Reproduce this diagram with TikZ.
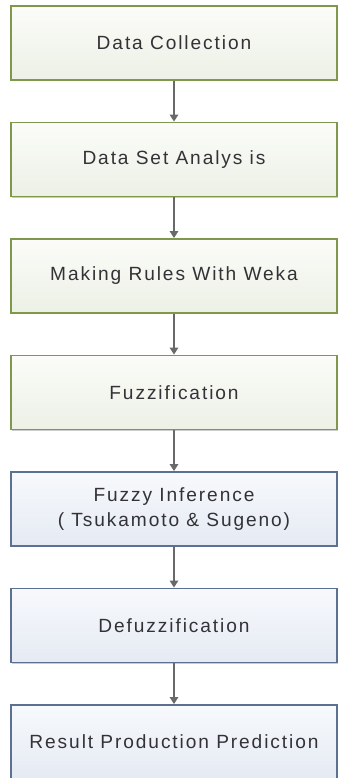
\documentclass[tikz,border=0pt]{standalone}
\usepackage{fontspec}
\setmainfont{Liberation Sans}[LetterSpace=10]
\usepackage{tikz}
\usepackage{xcolor}
\usetikzlibrary{arrows.meta,shadows}

\definecolor{greenedge}{RGB}{128,152,76}
\definecolor{greentop}{RGB}{251,252,249}
\definecolor{greenbot}{RGB}{236,240,229}
\definecolor{blueedge}{RGB}{92,112,145}
\definecolor{bluetop}{RGB}{247,249,252}
\definecolor{bluebot}{RGB}{229,234,243}
\definecolor{arrowgray}{RGB}{105,105,105}
\definecolor{textgray}{RGB}{50,50,55}

\begin{document}
\begin{tikzpicture}[
  >={Triangle[width=6pt,length=5pt]},
  stage/.style={draw=#1edge, line width=1.3pt, top color=#1top, bottom color=#1bot,
    minimum width=8.15cm, minimum height=1.85cm, align=center, text=textgray,
    drop shadow={shadow xshift=0.5pt, shadow yshift=-1pt, opacity=.2, fill=black}},
  arr/.style={->, line width=1.2pt, draw=arrowgray, fill=arrowgray},
  every node/.style={font=\fontsize{13.6}{18}\selectfont}
]
\useasboundingbox (0,0) rectangle (8.45,-19.45);

\node[stage=green] (collect) at (4.35,-1.075) {Data Collection};
\node[stage=green] (analysis) at (4.35,-3.9875) {Data Set Analys is};
\node[stage=green] (rules) at (4.35,-6.9) {Making Rules With Weka};
\node[stage=green] (fuzzify) at (4.35,-9.8125) {Fuzzification};
\node[stage=blue] (infer) at (4.35,-12.725) {Fuzzy Inference\\( Tsukamoto \& Sugeno)};
\node[stage=blue] (defuzz) at (4.35,-15.6375) {Defuzzification};
\node[stage=blue] (result) at (4.35,-18.55) {Result Production Prediction};

\draw[arr] (collect) -- (analysis);
\draw[arr] (analysis) -- (rules);
\draw[arr] (rules) -- (fuzzify);
\draw[arr] (fuzzify) -- (infer);
\draw[arr] (infer) -- (defuzz);
\draw[arr] (defuzz) -- (result);
\end{tikzpicture}
\end{document}
